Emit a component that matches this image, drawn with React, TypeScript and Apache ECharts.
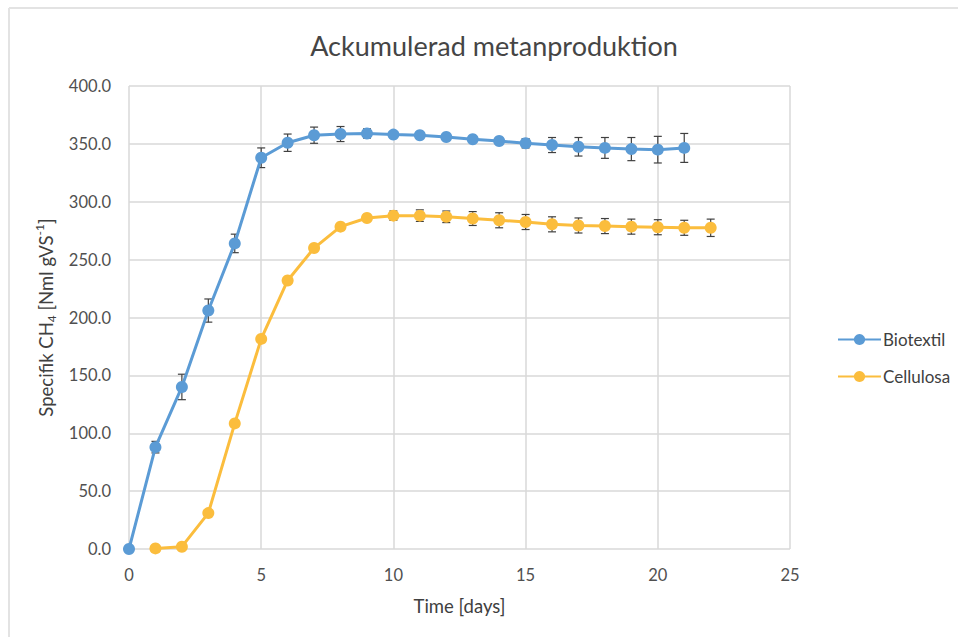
import React, { useEffect, useRef } from "react";
import * as echarts from "echarts";

const bioDays = [0, 1, 2, 3, 4, 5, 6, 7, 8, 9, 10, 11, 12, 13, 14, 15, 16, 17, 18, 19, 20, 21];
const bioValues = [0, 88, 140, 206, 264, 338, 351, 357.5, 358.5, 359, 358, 357.5, 356, 354, 352.5, 350.5, 349, 347.5, 346.5, 345.5, 345, 346.5];
const bioErr = [0, 5, 11, 10, 8, 8.5, 7.5, 7, 6.5, 4, 2.5, 2.5, 2.5, 2.5, 3, 4, 6.5, 8, 9, 10, 11.5, 12.5];

const celDays = [1, 2, 3, 4, 5, 6, 7, 8, 9, 10, 11, 12, 13, 14, 15, 16, 17, 18, 19, 20, 21, 22];
const celValues = [0.5, 2, 31, 108.5, 181.5, 232, 260, 278.5, 286, 288, 288, 287, 285.5, 284, 282.5, 280.5, 279.5, 279, 278.5, 278, 277.5, 277.5];
const celErr = [0, 0, 0, 0, 0, 0, 0, 2, 3, 4, 5, 5, 6, 6.5, 6.5, 6.5, 6.5, 6.5, 6.5, 6.5, 6.5, 7.5];

const xTicks = { min: 0, max: 25, interval: 5 };
const yTicks = { min: 0, max: 400, interval: 50 };

const BLUE = "#5b9bd5";
const GOLD = "#fbbd3d";
const FONT = "Lato, 'Open Sans', sans-serif";

function errorSeries(days: number[], vals: number[], errs: number[]) {
  const data = days.map((d, i) => [d, vals[i] - errs[i], vals[i] + errs[i]]);
  return {
    type: "custom",
    silent: true,
    z: 1,
    renderItem: (params: any, api: any) => {
      const x = api.value(0);
      const lo = api.coord([x, api.value(1)]);
      const hi = api.coord([x, api.value(2)]);
      const cap = 4;
      const style = { stroke: "#404040", lineWidth: 1.2 };
      return {
        type: "group",
        children: [
          { type: "line", shape: { x1: lo[0], y1: lo[1], x2: hi[0], y2: hi[1] }, style },
          { type: "line", shape: { x1: lo[0] - cap, y1: lo[1], x2: lo[0] + cap, y2: lo[1] }, style },
          { type: "line", shape: { x1: hi[0] - cap, y1: hi[1], x2: hi[0] + cap, y2: hi[1] }, style },
        ],
      };
    },
    data,
  };
}

export default function App() {
  const ref = useRef<HTMLDivElement>(null);
  useEffect(() => {
    const chart = echarts.init(ref.current!, undefined, { renderer: "svg" });
    chart.setOption({
      animation: false,
      backgroundColor: "#ffffff",
      textStyle: { fontFamily: FONT },
      title: {
        text: "Ackumulerad metanproduktion",
        left: 489,
        textAlign: "center",
        top: 27,
        textStyle: { fontFamily: FONT, fontSize: 27, fontWeight: "normal", color: "#454545" },
      },
      graphic: [
        { type: "line", shape: { x1: 9, y1: 8, x2: 9, y2: 637 }, style: { stroke: "#e3e3e3", lineWidth: 2 } },
        { type: "line", shape: { x1: 9, y1: 8, x2: 958, y2: 8 }, style: { stroke: "#e3e3e3", lineWidth: 2 } },
      ],
      legend: {
        orient: "vertical",
        left: 832,
        top: 326,
        itemWidth: 43,
        itemHeight: 14,
        itemGap: 20,
        data: ["Biotextil", "Cellulosa"],
        textStyle: { fontFamily: FONT, fontSize: 17, color: "#404040", padding: [0, 0, 0, -3] },
      },
      grid: { left: 129, right: 168, top: 86, bottom: 88 },
      xAxis: {
        type: "value",
        ...xTicks,
        name: "Time [days]",
        nameLocation: "middle",
        nameGap: 47,
        nameTextStyle: { fontFamily: FONT, fontSize: 18.5, color: "#404040" },
        axisLine: { show: false },
        axisTick: { show: false },
        axisLabel: { fontFamily: FONT, fontSize: 16.5, color: "#505050", margin: 17 },
        splitLine: { show: true, lineStyle: { color: "#d9d9d9", width: 1.5 } },
      },
      yAxis: {
        type: "value",
        ...yTicks,
        name: "{a|Specifik CH}{sub|4}{a| [Nml gVS}{sup|-1}{a|]}",
        nameLocation: "middle",
        nameGap: 68,
        nameTextStyle: {
          rich: {
            a: { fontFamily: FONT, fontSize: 18.5, color: "#404040", lineHeight: 24, verticalAlign: "middle" },
            sub: { fontFamily: FONT, fontSize: 12, color: "#404040", lineHeight: 24, verticalAlign: "bottom", padding: [7, 0, 0, 0] },
            sup: { fontFamily: FONT, fontSize: 12, color: "#404040", lineHeight: 24, verticalAlign: "top", padding: [0, 0, 7, 0] },
          },
        },
        axisLine: { show: false },
        axisTick: { show: false },
        axisLabel: {
          fontFamily: FONT,
          fontSize: 16.5,
          color: "#505050",
          margin: 18,
          formatter: (v: number) => v.toFixed(1),
        },
        splitLine: { show: true, lineStyle: { color: "#d9d9d9", width: 1.5 } },
      },
      series: [
        errorSeries(bioDays, bioValues, bioErr),
        errorSeries(celDays, celValues, celErr),
        {
          name: "Biotextil",
          type: "line",
          z: 3,
          data: bioDays.map((d, i) => [d, bioValues[i]]),
          symbol: "circle",
          symbolSize: 12,
          color: BLUE,
          lineStyle: { color: BLUE, width: 3 },
          itemStyle: { color: BLUE },
        },
        {
          name: "Cellulosa",
          type: "line",
          z: 3,
          data: celDays.map((d, i) => [d, celValues[i]]),
          symbol: "circle",
          symbolSize: 12,
          color: GOLD,
          lineStyle: { color: GOLD, width: 3 },
          itemStyle: { color: GOLD },
        },
      ],
    });
    return () => chart.dispose();
  }, []);
  return <div ref={ref} style={{ width: 958, height: 637, position: "absolute", left: 0, top: 0 }} />;
}
